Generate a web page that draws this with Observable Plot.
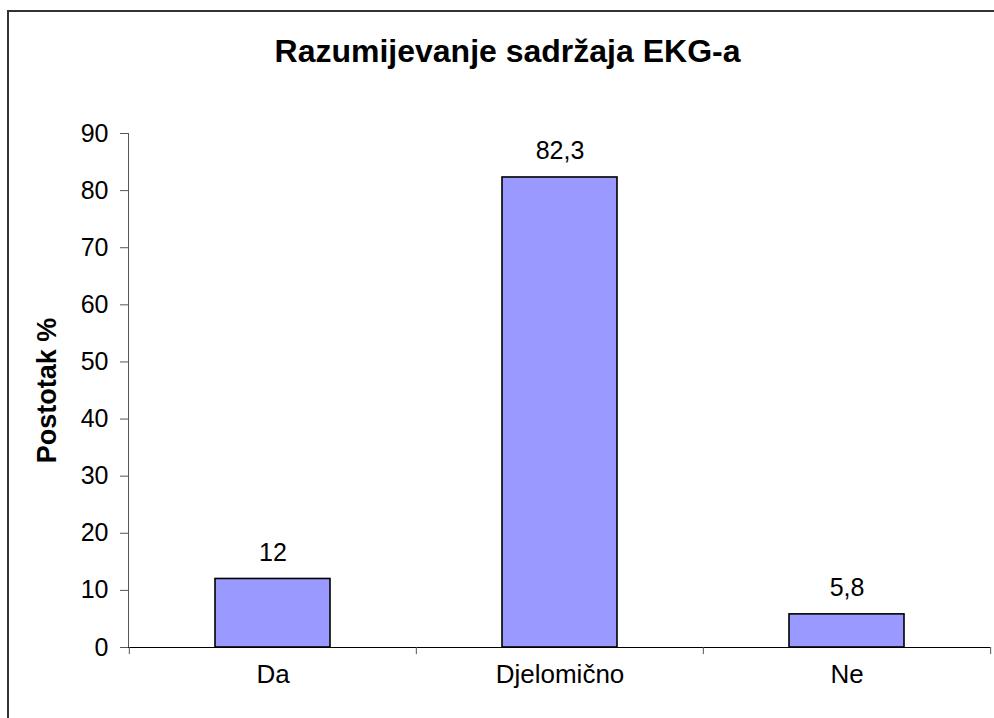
<!DOCTYPE html>
<html>
<head>
<meta charset="utf-8">
<script src="https://cdn.jsdelivr.net/npm/d3@7"></script>
<script src="https://cdn.jsdelivr.net/npm/@observablehq/plot@0.6"></script>
<style>
  html, body { margin: 0; padding: 0; background: #fff; overflow: hidden; }
  #wrap { position: relative; width: 994px; height: 718px; font-family: "Liberation Sans", Arial, Helvetica, sans-serif; }
  #border { position: absolute; left: 7px; top: 10px; width: 1000px; height: 720px; border: 2px solid #333; pointer-events: none; box-sizing: border-box; }
  #title { position: absolute; left: 0; width: 1015px; top: 33px; text-align: center; font-weight: bold; font-size: 32px; color: #000; line-height: 36px; }
  svg { display: block; }
</style>
</head>
<body>
<div id="wrap">
  <div id="chart"></div>
  <div id="border"></div>
  <div id="title">Razumijevanje sadržaja EKG-a</div>
</div>
<script>
const categories = ["Da", "Djelomično", "Ne"];
const values = [12, 82.3, 5.8];
const yTicks = [0, 10, 20, 30, 40, 50, 60, 70, 80, 90];
const yLabel = "Postotak %";

const data = categories.map((c, i) => ({category: c, value: values[i]}));
const fmt = v => String(v).replace(".", ",");

const W = 994, H = 718, mL = 128, mR = 4, mT = 133, mB = 71;
const step = (W - mL - mR) / categories.length;
const font = "'Liberation Sans', Arial, Helvetica, sans-serif";

const plot = Plot.plot({
  width: W,
  height: H,
  marginLeft: mL,
  marginRight: mR,
  marginTop: mT,
  marginBottom: mB,
  style: {fontFamily: font, fontSize: "25px", color: "#000", background: "#fff"},
  x: {domain: categories, paddingInner: 0.6, paddingOuter: 0.3, axis: null},
  y: {domain: [0, 90], axis: null},
  marks: [
    Plot.barY(data, {x: "category", y: "value", fill: "#9999FF", stroke: "#000", strokeWidth: 1.6}),
    Plot.axisY({ticks: yTicks, tickSize: 8, tickPadding: 12, fontSize: 25, stroke: "#555", label: null, tickFormat: d => d}),
    Plot.frame({anchor: "left", stroke: "#555"}),
    Plot.ruleY([0], {stroke: "#000", strokeWidth: 1.2}),
    Plot.ruleX(categories, {x: d => d, y1: 0, y2: -1.25, dx: -step / 2, stroke: "#555"}),
    Plot.ruleX([categories[categories.length - 1]], {x: d => d, y1: 0, y2: -1.25, dx: step / 2, stroke: "#555"}),
    Plot.text(categories, {x: d => d, frameAnchor: "bottom", dy: 35, fontSize: 26, fill: "#000"}),
    Plot.text(data, {x: "category", y: "value", text: d => fmt(d.value), dy: -26, fontSize: 25, fill: "#000"}),
    Plot.text([yLabel], {frameAnchor: "left", textAnchor: "middle", rotate: -90, dx: -81, fontSize: 27, fontWeight: "bold", fill: "#000"})
  ]
});
document.getElementById("chart").appendChild(plot);
</script>
</body>
</html>
